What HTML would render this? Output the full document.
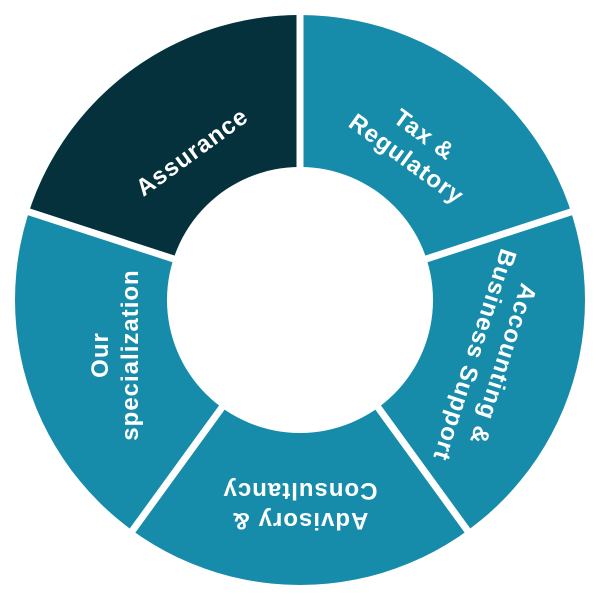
<!DOCTYPE html>
<html><head><style>body{margin:0;background:#fff}svg{display:block}</style></head>
<body>
<svg width="600" height="600" viewBox="0 0 600 600" xmlns="http://www.w3.org/2000/svg">
<circle cx="300" cy="300" r="285" fill="#168caa"/>
<path d="M300,300 L29,212 A285,285 0 0 1 300,15 Z" fill="#05313d"/>
<g stroke="#fff" stroke-width="7">
<line x1="300" y1="300" x2="300" y2="0"/>
<line x1="300" y1="300" x2="600" y2="202.5"/>
<line x1="300" y1="300" x2="476.3" y2="542.7"/>
<line x1="300" y1="300" x2="123.7" y2="542.7"/>
<line x1="300" y1="300" x2="0" y2="202.5"/>
</g>
<circle cx="300" cy="300" r="133" fill="#fff"/>
<g fill="#fff" font-family="Liberation Sans, sans-serif" font-weight="bold" font-size="24" letter-spacing="1" text-anchor="middle">
<text transform="translate(192,152) rotate(-36)" dy="8">Assurance</text>
<text transform="translate(416,146) rotate(36)"><tspan x="0" dy="-6">Tax &amp;</tspan><tspan x="0" dy="30">Regulatory</tspan></text>
<text transform="translate(490,360) rotate(108)"><tspan x="0" dy="-6">Accounting &amp;</tspan><tspan x="0" dy="30">Business Support</tspan></text>
<text transform="translate(300,507) rotate(180)"><tspan x="0" dy="-6">Advisory &amp;</tspan><tspan x="0" dy="30">Consultancy</tspan></text>
<text transform="translate(114,355) rotate(-90)"><tspan x="0" dy="-6">Our</tspan><tspan x="0" dy="30">specialization</tspan></text>
</g>
</svg>
</body></html>
